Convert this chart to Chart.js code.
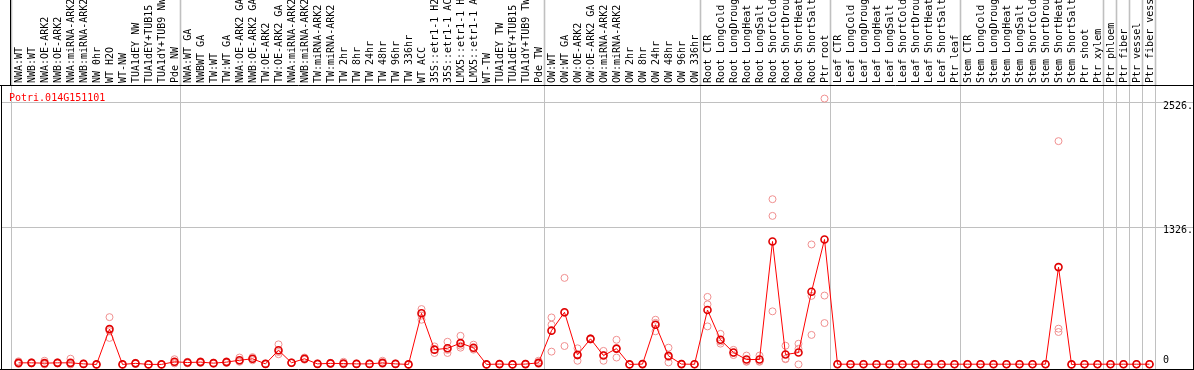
<!DOCTYPE html>
<html>
<head>
<meta charset="utf-8">
<script src="https://cdn.jsdelivr.net/npm/chart.js@4.4.1/dist/chart.umd.min.js"></script>
<style>
  html, body { margin: 0; padding: 0; background: #fff; }
  #wrap { width: 1194px; height: 370px; }
</style>
</head>
<body>
<div id="wrap"><canvas id="chart" width="1194" height="370"></canvas></div>
<script>
const geneName = "Potri.014G151101";

const labels = [
  "NWA:WT", "NWB:WT", "NWA:OE-ARK2", "NWB:OE-ARK2", "NWA:miRNA-ARK2", "NWB:miRNA-ARK2",
  "NW 0hr", "WT H2O", "WT-NW", "TUA1dEY NW", "TUA1dEY+TUB15 NW", "TUA1dY+TUB9 NW", "Pde NW",
  "NWA:WT GA", "NWBWT GA", "TW:WT", "TW:WT GA", "NWA:OE-ARK2 GA", "NWB:OE-ARK2 GA",
  "TW:OE-ARK2", "TW:OE-ARK2 GA", "NWA:miRNA-ARK2", "NWB:miRNA-ARK2", "TW:miRNA-ARK2", "TW:miRNA-ARK2",
  "TW 2hr", "TW 8hr", "TW 24hr", "TW 48hr", "TW 96hr", "TW 336hr", "WT ACC",
  "35S::etr1-1 H2O", "35S::etr1-1 ACC", "LMX5::etr1-1 H2O", "LMX5::etr1-1 ACC",
  "WT-TW", "TUA1dEY TW", "TUA1dEY+TUB15 TW", "TUA1dY+TUB9 TW", "Pde TW",
  "OW:WT", "OW:WT GA", "OW:OE-ARK2", "OW:OE-ARK2 GA", "OW:miRNA-ARK2", "OW:miRNA-ARK2",
  "OW 2hr", "OW 8hr", "OW 24hr", "OW 48hr", "OW 96hr", "OW 336hr",
  "Root CTR", "Root LongCold", "Root LongDrought", "Root LongHeat", "Root LongSalt",
  "Root ShortCold", "Root ShortDrought", "Root ShortHeat", "Root ShortSalt", "Ptr root",
  "Leaf CTR", "Leaf LongCold", "Leaf LongDrought", "Leaf LongHeat", "Leaf LongSalt",
  "Leaf ShortCold", "Leaf ShortDrought", "Leaf ShortHeat", "Leaf ShortSalt", "Ptr leaf",
  "Stem CTR", "Stem LongCold", "Stem LongDrought", "Stem LongHeat", "Stem LongSalt",
  "Stem ShortCold", "Stem ShortDrought", "Stem ShortHeat", "Stem ShortSalt", "Ptr shoot",
  "Ptr xylem", "Ptr phloem", "Ptr fiber", "Ptr vessel", "Ptr fiber vessel"
];

// mean expression per sample
const means = [
  15, 15, 12, 15, 15, 5, 0, 340, 0, 10, 0, 0, 25,
  18, 22, 12, 22, 40, 54, 5, 136, 16, 54, 5, 10, 8, 5, 5, 15, 5, 0, 492, 142, 155, 205, 161, 0, 3, 0, 3, 15,
  325, 502, 92, 246, 85, 152, 0, 3, 382, 82, 3, 1,
  524, 237, 114, 47, 47, 1184, 95, 114, 700, 1203,
  2, 2, 2, 2, 2, 2, 2, 2, 2, 2,
  2, 2, 2, 2, 2, 2, 2, 937, 0, 2,
  2, 2, 2, 2, 2
];

// replicates
const rep1 = [
  30, 20, 35, 20, 55, 8, 0, 455, 0, 15, 0, 0, 50,
  25, 30, 15, 30, 66, 70, 8, 193, 20, 66, 8, 15, 25, 8, 8, 35, 8, 0, 533, 173, 218, 275, 190, 0, 5, 0, 5, 35,
  452, 833, 155, 250, 130, 237, 0, 5, 430, 161, 5, 2,
  650, 294, 140, 85, 85, 1591, 180, 199, 1155, 2560,
  5, 4, 5, 4, 5, 4, 5, 4, 5, 4,
  5, 4, 5, 4, 5, 4, 5, 2150, 0, 4,
  4, 4, 4, 4, 4
];
const rep2 = [
  10, 10, 5, 15, 0, 5, 0, 320, 0, 10, 0, 0, 15,
  15, 20, 10, 20, 30, 50, 5, 120, 15, 50, 5, 10, 5, 5, 5, 10, 5, 0, 470, 142, 140, 180, 142, 0, 3, 0, 3, 10,
  382, 177, 35, 240, 35, 66, 0, 3, 319, 19, 3, 1,
  578, 200, 90, 30, 30, 1430, 50, 150, 284, 663,
  2, 1, 2, 1, 2, 1, 2, 1, 2, 1,
  2, 1, 2, 1, 2, 1, 2, 344, 0, 1,
  2, 1, 2, 1, 2
];
const rep3 = [
  5, 15, 0, 10, 0, 2, 0, 255, 0, 5, 0, 0, 10,
  10, 15, 8, 15, 25, 40, 2, 98, 12, 45, 2, 5, 0, 2, 2, 5, 2, 0, 430, 110, 110, 161, 150, 0, 0, 0, 0, 5,
  123, 496, 85, 250, 90, 150, 0, 0, 400, 70, 0, 0,
  366, 220, 110, 25, 25, 511, 55, 0, 660, 398,
  0, 0, 0, 0, 0, 0, 0, 0, 0, 0,
  0, 0, 0, 0, 0, 0, 0, 312, 0, 0,
  0, 0, 0, 0, 0
];

// group separators come after these sample counts
const groupEnds = [0, 13, 41, 53, 63, 73, 84, 85, 86, 87, 88];
const yTicks = [0, 1326, 2526];
const yTickLabels = ["0", "1326.", "2526."];
const yMax = 2681;

const FONT = "10px 'DejaVu Sans Mono', monospace";

const decor = {
  id: "decor",
  beforeDatasetsDraw(chart) {
    const ctx = chart.ctx;
    const x = chart.scales.x, y = chart.scales.y;
    const area = chart.chartArea;
    const W = chart.width, H = chart.height;
    const step = (x.getPixelForValue(1) - x.getPixelForValue(0));
    ctx.save();
    ctx.strokeStyle = "#c0c0c0";
    ctx.lineWidth = 1;
    // horizontal grid
    for (const v of yTicks) {
      if (v === 0) continue;
      const py = Math.round(y.getPixelForValue(v)) + 0.5;
      ctx.beginPath();
      ctx.moveTo(2, py);
      ctx.lineTo(W, py);
      ctx.stroke();
    }
    // vertical group lines
    for (const g of groupEnds) {
      const px = Math.round(x.getPixelForValue(g) - step / 2) - 0.5;
      ctx.beginPath();
      ctx.moveTo(px, 0);
      ctx.lineTo(px, H);
      ctx.stroke();
    }
    ctx.restore();
  },
  afterDraw(chart) {
    const ctx = chart.ctx;
    const x = chart.scales.x, y = chart.scales.y;
    const area = chart.chartArea;
    const W = chart.width, H = chart.height;
    ctx.save();
    // header background
    ctx.fillStyle = "#fff";
    ctx.fillRect(0, 0, W, 85);
    ctx.strokeStyle = "#c0c0c0";
    const step = (x.getPixelForValue(1) - x.getPixelForValue(0));
    for (const g of groupEnds) {
      const px = Math.round(x.getPixelForValue(g) - step / 2) - 0.5;
      ctx.beginPath();
      ctx.moveTo(px, 0);
      ctx.lineTo(px, 85);
      ctx.stroke();
    }
    // sample labels, rotated
    ctx.fillStyle = "#000";
    ctx.font = FONT;
    ctx.textAlign = "left";
    ctx.textBaseline = "middle";
    labels.forEach((lab, i) => {
      const px = x.getPixelForValue(i);
      ctx.save();
      ctx.translate(px + 1, 83);
      ctx.rotate(-Math.PI / 2);
      ctx.fillText(lab, 0, 0);
      ctx.restore();
    });
    // borders
    ctx.strokeStyle = "#000";
    ctx.lineWidth = 1;
    ctx.beginPath();
    ctx.moveTo(0, 85.5); ctx.lineTo(W, 85.5);
    ctx.moveTo(10.5, 0); ctx.lineTo(10.5, 85);
    ctx.moveTo(1.5, 85); ctx.lineTo(1.5, H);
    ctx.moveTo(W - 0.5, 0); ctx.lineTo(W - 0.5, H);
    ctx.moveTo(0, H - 0.5); ctx.lineTo(W, H - 0.5);
    ctx.stroke();
    // gene name
    ctx.fillStyle = "#ff0000";
    ctx.textAlign = "left";
    ctx.textBaseline = "alphabetic";
    ctx.fillText(geneName, 9, 101);
    // y labels on the right
    ctx.fillStyle = "#000";
    yTicks.forEach((v, i) => {
      const py = y.getPixelForValue(v);
      if (v === 0) {
        ctx.textBaseline = "alphabetic";
        ctx.fillText(yTickLabels[i], 1163, py - 1);
      } else {
        ctx.textBaseline = "top";
        ctx.fillText(yTickLabels[i], 1163, py - 1);
      }
    });
    ctx.restore();
  }
};

function repSet(data) {
  return {
    label: "rep",
    data,
    showLine: false,
    pointRadius: 3.5,
    pointBorderWidth: 1,
    pointBorderColor: "#f09090",
    pointBackgroundColor: "rgba(0,0,0,0)",
    pointStyle: "circle",
    clip: false
  };
}

new Chart(document.getElementById("chart"), {
  type: "line",
  data: {
    labels,
    datasets: [
      {
        label: "mean",
        data: means,
        borderColor: "#ff0000",
        borderWidth: 1,
        tension: 0,
        pointRadius: 3.5,
        pointBorderWidth: 1.6,
        pointBorderColor: "#e00000",
        pointBackgroundColor: "rgba(0,0,0,0)",
        clip: false
      },
      repSet(rep1),
      repSet(rep2),
      repSet(rep3)
    ]
  },
  options: {
    responsive: false,
    animation: false,
    devicePixelRatio: 1,
    layout: { padding: { left: 12, right: 38, top: 86, bottom: 3 } },
    plugins: { legend: { display: false }, tooltip: { enabled: false } },
    scales: {
      x: { type: "category", display: false, offset: true },
      y: { display: false, min: 0, max: yMax }
    }
  },
  plugins: [decor]
});
</script>
</body>
</html>
